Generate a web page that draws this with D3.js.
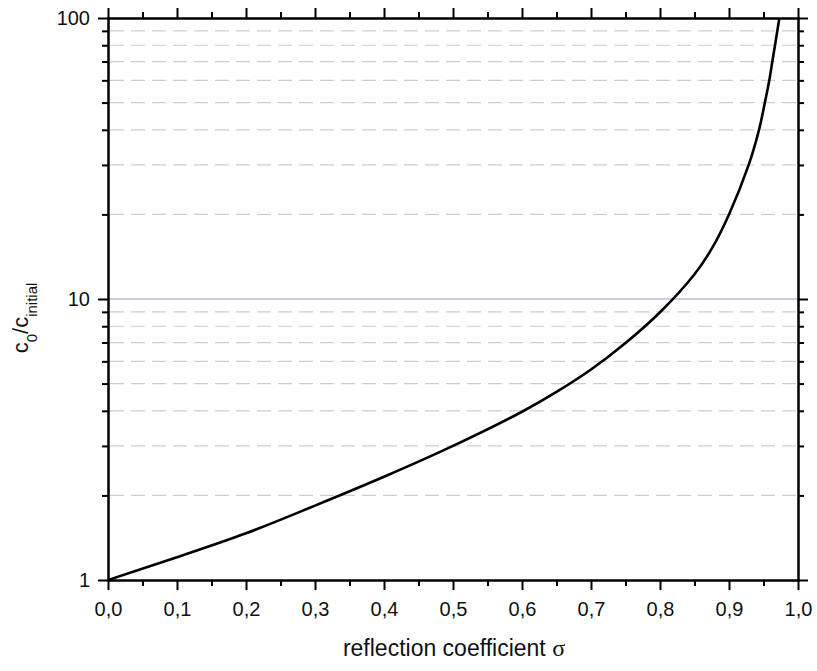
<!DOCTYPE html>
<html>
<head>
<meta charset="utf-8">
<script src="https://cdn.jsdelivr.net/npm/d3@7"></script>
<style>
  html, body { margin: 0; padding: 0; background: #fff; }
  svg text { font-family: "Liberation Sans", Arial, sans-serif; fill: #111; }
</style>
</head>
<body>
<svg id="chart" width="817" height="671"></svg>
<script>
// Concentration ratio versus reflection coefficient
const sigma = [0, 0.1, 0.2, 0.3, 0.4, 0.5, 0.6, 0.65, 0.7, 0.75, 0.8, 0.85, 0.875,
               0.9, 0.9285, 0.9435, 0.952, 0.9584, 0.9628, 0.9667, 0.970, 0.973];
const ratio = [1, 1.205, 1.466, 1.84, 2.33, 3.0, 3.97, 4.67, 5.61, 6.97, 8.97, 12.25, 15.1,
               20, 30, 40, 50, 60, 70, 80, 90, 100];

const xMajorTicks = [0, 0.1, 0.2, 0.3, 0.4, 0.5, 0.6, 0.7, 0.8, 0.9, 1.0];
const xMinorTicks = [0.05, 0.15, 0.25, 0.35, 0.45, 0.55, 0.65, 0.75, 0.85, 0.95];
const yMajorTicks = [1, 10, 100];
const yMinorTicks = [2, 3, 4, 5, 6, 7, 8, 9, 20, 30, 40, 50, 60, 70, 80, 90];

const svg = d3.select("#chart");
const plotL = 108, plotR = 798, plotT = 18, plotB = 580;

const x = d3.scaleLinear().domain([0, 1]).range([plotL, plotR]);
const y = d3.scaleLog().domain([1, 100]).range([plotB, plotT]);

// minor grid: dashed light lines
svg.append("g")
  .selectAll("line")
  .data(yMinorTicks)
  .join("line")
  .attr("x1", plotL + 2).attr("x2", plotR - 1)
  .attr("y1", d => y(d)).attr("y2", d => y(d))
  .attr("stroke", "#cbcbe0")
  .attr("stroke-width", 1.2)
  .attr("stroke-dasharray", "14,7");

// major grid line at 10
svg.append("line")
  .attr("x1", plotL).attr("x2", plotR)
  .attr("y1", y(10)).attr("y2", y(10))
  .attr("stroke", "#9d9dd6")
  .attr("stroke-width", 1.2);

// curve
svg.append("clipPath").attr("id", "plotClip")
  .append("rect").attr("x", plotL).attr("y", plotT)
  .attr("width", plotR - plotL).attr("height", plotB - plotT);

const pts = sigma.map((s, i) => [s, ratio[i]]);
svg.append("path")
  .datum(pts)
  .attr("clip-path", "url(#plotClip)")
  .attr("fill", "none")
  .attr("stroke", "#000")
  .attr("stroke-width", 2.6)
  .attr("d", d3.line().x(d => x(d[0])).y(d => y(d[1])).curve(d3.curveCatmullRom.alpha(0.5)));

const fmt = d => d3.format(".1f")(d).replace(".", ",");

function styleAxis(g) {
  g.select(".domain").attr("stroke", "#000").attr("stroke-width", 2);
  g.selectAll(".tick line").attr("stroke", "#000").attr("stroke-width", 2);
  g.selectAll(".tick text").attr("font-size", 20).attr("fill", "#111");
}

// bottom axis
svg.append("g").attr("transform", `translate(0,${plotB})`)
  .call(d3.axisBottom(x).tickValues(xMinorTicks).tickSize(6).tickSizeOuter(0).tickFormat(""))
  .call(styleAxis);
svg.append("g").attr("transform", `translate(0,${plotB})`)
  .call(d3.axisBottom(x).tickValues(xMajorTicks).tickSize(10).tickSizeOuter(0).tickPadding(12).tickFormat(fmt))
  .call(styleAxis);

// top axis
svg.append("g").attr("transform", `translate(0,${plotT})`)
  .call(d3.axisTop(x).tickValues(xMinorTicks).tickSize(6).tickSizeOuter(0).tickFormat(""))
  .call(styleAxis);
svg.append("g").attr("transform", `translate(0,${plotT})`)
  .call(d3.axisTop(x).tickValues(xMajorTicks).tickSize(10).tickSizeOuter(0).tickFormat(""))
  .call(styleAxis);

// left axis
svg.append("g").attr("transform", `translate(${plotL},0)`)
  .call(d3.axisLeft(y).tickValues(yMinorTicks).tickSize(6).tickSizeOuter(0).tickFormat(""))
  .call(styleAxis);
svg.append("g").attr("transform", `translate(${plotL},0)`)
  .call(d3.axisLeft(y).tickValues(yMajorTicks).tickSize(10).tickSizeOuter(0).tickPadding(8).tickFormat(d3.format("d")))
  .call(styleAxis);

// right axis
svg.append("g").attr("transform", `translate(${plotR},0)`)
  .call(d3.axisRight(y).tickValues(yMinorTicks).tickSize(6).tickSizeOuter(0).tickFormat(""))
  .call(styleAxis);
svg.append("g").attr("transform", `translate(${plotR},0)`)
  .call(d3.axisRight(y).tickValues(yMajorTicks).tickSize(10).tickSizeOuter(0).tickFormat(""))
  .call(styleAxis);

svg.selectAll(".domain").attr("stroke-linecap", "square");

// x axis title
const xt = svg.append("text")
  .attr("x", (plotL + plotR) / 2 + 1)
  .attr("y", 656)
  .attr("text-anchor", "middle")
  .attr("font-size", 23);
xt.append("tspan").text("reflection coefficient ");
xt.append("tspan").attr("font-family", "'Liberation Serif', 'DejaVu Serif', serif").attr("font-size", 24).text("σ");

// y axis title with subscripts
const yt = svg.append("text")
  .attr("transform", "translate(28,318) rotate(-90)")
  .attr("text-anchor", "middle")
  .attr("font-size", 22);
yt.append("tspan").text("c");
yt.append("tspan").attr("font-size", 15).attr("dy", 9).text("0");
yt.append("tspan").attr("dy", -9).text("/c");
yt.append("tspan").attr("font-size", 15).attr("dy", 9).text("initial");
</script>
</body>
</html>
